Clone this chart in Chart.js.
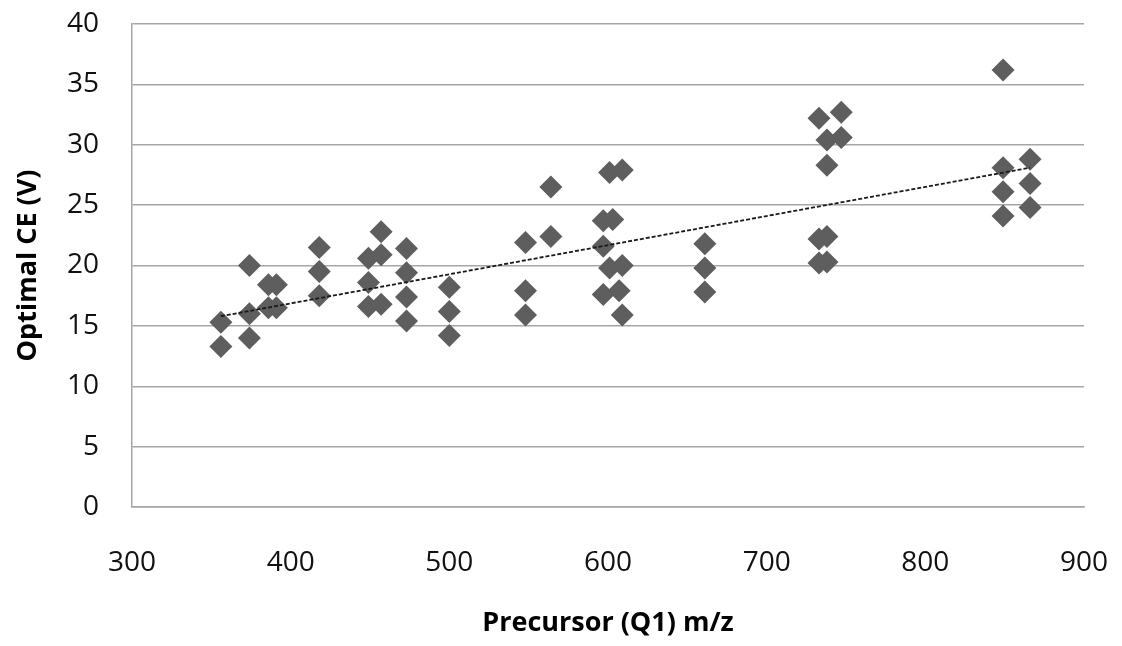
<!DOCTYPE html>
<html>
<head>
<meta charset="utf-8">
<script src="https://cdn.jsdelivr.net/npm/chart.js@4/dist/chart.umd.min.js"></script>
<style>
  html, body { margin: 0; padding: 0; background: #ffffff; }
  #wrap { width: 1122px; height: 646px; }
</style>
</head>
<body>
<div id="wrap"><canvas id="c" width="1122" height="646"></canvas></div>
<script>
// Precursor m/z values (x) and optimal CE values (y)
const precursorMz = [
  356, 356,
  374, 374, 374,
  386, 391, 386, 391,
  418, 418, 418,
  449, 449, 449, 457, 457, 457,
  473, 473, 473, 473,
  500, 500, 500,
  548, 548, 548,
  564, 564,
  597, 597, 597, 601, 601, 603, 607, 609, 609, 609,
  661, 661, 661,
  733, 733, 733, 738, 738, 738, 738, 747, 747,
  849, 849, 849, 849,
  866, 866, 866
];
const optimalCE = [
  13.3, 15.3,
  20.0, 16.0, 14.0,
  18.4, 18.4, 16.5, 16.5,
  21.5, 19.5, 17.5,
  20.6, 18.6, 16.6, 22.8, 20.9, 16.8,
  21.4, 19.4, 17.4, 15.4,
  18.2, 16.2, 14.2,
  21.9, 17.9, 15.9,
  26.5, 22.4,
  23.7, 21.6, 17.6, 27.7, 19.8, 23.8, 17.9, 27.9, 20.0, 15.9,
  21.8, 19.8, 17.8,
  32.2, 22.2, 20.2, 30.4, 28.3, 22.4, 20.3, 32.7, 30.6,
  36.2, 28.1, 26.1, 24.1,
  28.8, 26.8, 24.8
];
// Linear trend line endpoints as drawn in the reference
const trendX = [356, 866];
const trendY = [15.8, 28.1];

const xTicks = [300, 400, 500, 600, 700, 800, 900];
const yTicks = [0, 5, 10, 15, 20, 25, 30, 35, 40];

const xTitle = 'Precursor (Q1) m/z';
const yTitle = 'Optimal CE (V)';

const scatterPts = precursorMz.map((x, i) => ({ x: x, y: optimalCE[i] }));
const trendPts = trendX.map((x, i) => ({ x: x, y: trendY[i] }));

const gridColor = '#a6a6a6';
const tickFont = { family: '"Open Sans", sans-serif', size: 28 };
const titleFont = { family: '"Open Sans", sans-serif', size: 27, weight: 'bold' };

new Chart(document.getElementById('c'), {
  type: 'scatter',
  data: {
    datasets: [
      {
        type: 'line',
        label: 'Trend',
        data: trendPts,
        borderColor: '#1a1a1a',
        borderWidth: 1.8,
        borderDash: [4, 2],
        pointRadius: 0,
        fill: false,
        order: 0
      },
      {
        label: 'Optimal CE',
        data: scatterPts,
        pointStyle: 'rectRot',
        pointRadius: 11.5,
        pointHoverRadius: 11.5,
        backgroundColor: '#5e5e5e',
        borderWidth: 0,
        order: 1
      }
    ]
  },
  options: {
    responsive: false,
    animation: false,
    events: [],
    layout: { padding: { top: 24, right: 38, bottom: 0, left: 0 } },
    plugins: {
      legend: { display: false },
      tooltip: { enabled: false }
    },
    scales: {
      x: {
        type: 'linear',
        min: xTicks[0],
        max: xTicks[xTicks.length - 1],
        afterBuildTicks: (s) => { s.ticks = xTicks.map(v => ({ value: v })); },
        afterFit: (s) => { s.height = 139; s.paddingLeft = 0; s.paddingRight = 0; },
        grid: { display: false, drawTicks: false },
        border: { display: true, color: gridColor, width: 1.5 },
        ticks: { color: '#111111', font: tickFont, padding: 39, maxRotation: 0 },
        title: { display: true, text: xTitle, color: '#000000', font: titleFont, padding: { top: 0, bottom: 6 } }
      },
      y: {
        type: 'linear',
        min: yTicks[0],
        max: yTicks[yTicks.length - 1],
        afterBuildTicks: (s) => { s.ticks = yTicks.map(v => ({ value: v })); },
        afterFit: (s) => { s.width = 132; s.paddingTop = 0; s.paddingBottom = 0; },
        grid: { color: gridColor, lineWidth: 1.5, drawTicks: false },
        border: { display: true, color: gridColor, width: 1.5 },
        ticks: { color: '#111111', font: tickFont, padding: 33 },
        title: { display: true, text: yTitle, color: '#000000', font: titleFont, padding: { top: 12, bottom: 0 } }
      }
    }
  }
});
</script>
</body>
</html>
